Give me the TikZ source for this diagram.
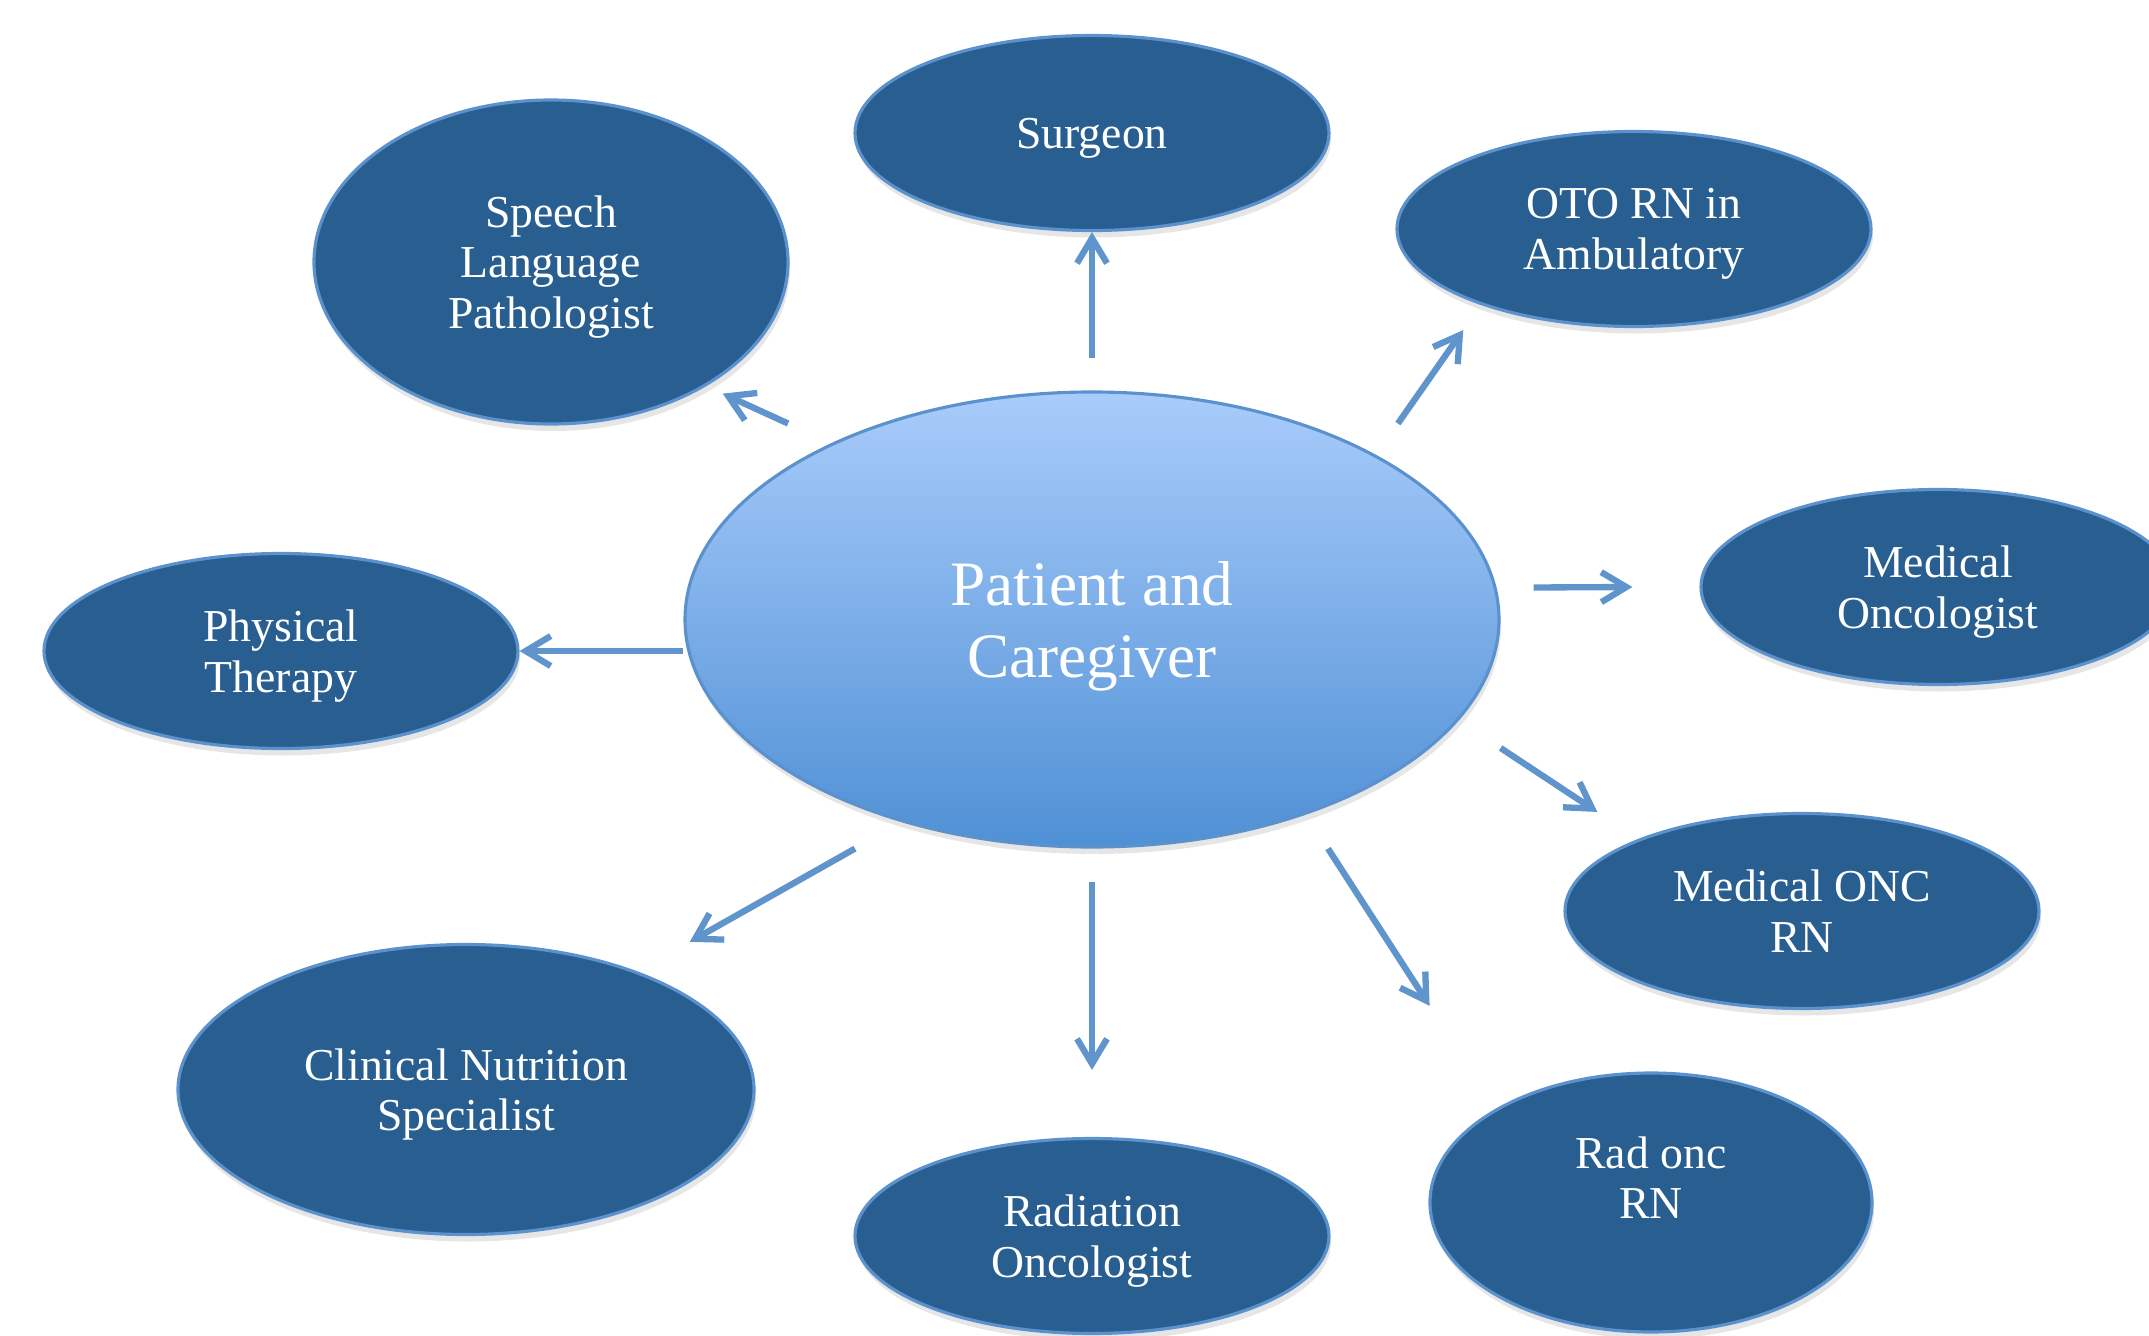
\documentclass[tikz,border=0pt]{standalone}
\usepackage{fontspec}
\setmainfont{Liberation Serif}
\usetikzlibrary{shapes}
\usetikzlibrary{arrows.meta}
\usetikzlibrary{shadows}
\definecolor{roleblue}{RGB}{41,94,145}
\definecolor{rimblue}{RGB}{91,146,206}
\definecolor{hubtop}{RGB}{169,204,251}
\definecolor{hubbottom}{RGB}{79,144,213}
\definecolor{linkblue}{RGB}{95,148,204}
\tikzset{
	role/.style={
		ellipse,
		draw=rimblue,
		line width=0.9pt,
		fill=roleblue,
		text=white,
		align=center,
		inner sep=0pt,
		text depth=0pt,
		minimum width=4.74cm,
		minimum height=1.95cm,
		font=\fontsize{13}{14.4}\selectfont,
		drop shadow={opacity=0.2,shadow xshift=0.02cm,shadow yshift=-0.07cm}
	},
	hub/.style={
		ellipse,
		draw=rimblue,
		line width=0.9pt,
		top color=hubtop,
		bottom color=hubbottom,
		text=white,
		align=center,
		inner sep=0pt,
		text depth=0pt,
		minimum width=8.14cm,
		minimum height=4.55cm,
		font=\fontsize{18}{20.7}\selectfont,
		drop shadow={opacity=0.2,shadow xshift=0.02cm,shadow yshift=-0.07cm}
	},
	link/.style={
		draw=linkblue,
		line width=1.8pt,
		-{Straight Barb[length=2.5mm,width=3mm]}
	}
}

\begin{document}
\begin{tikzpicture}
					\useasboundingbox (0,0) rectangle (21.49,13.35);
					\clip (0,0) rectangle (21.49,13.35);
					\node[hub] (ctr) at (10.92,7.155) {Patient and\\Caregiver};
					\node[role] (surg) at (10.92,12.02) {Surgeon};
					\node[role, minimum height=3.24cm] (slp) at (5.51,10.73) {Speech\\Language\\Pathologist};
					\node[role] (oto) at (16.34,11.06) {OTO RN in\\Ambulatory};
					\node[role] (medonc) at (19.38,7.48) {Medical\\Oncologist};
					\node[role] (pt) at (2.81,6.84) {Physical\\Therapy};
					\node[role] (mrn) at (18.02,4.24) {Medical ONC\\RN};
					\node[role, minimum width=5.76cm, minimum height=2.9cm] (cns) at (4.66,2.455) {Clinical Nutrition\\Specialist};
					\node[role] (radonc) at (10.92,0.99) {Radiation\\Oncologist};
					\node[role, minimum width=4.42cm, minimum height=2.59cm, text depth=0.5cm] (rrn) at (16.51,1.325) {Rad onc\\RN};
					
					\draw[link] ([yshift=0.32cm]ctr.north) -- (surg.south);
					\draw[link] ([shift={(-0.15,0.34)}]ctr.north west) -- ([shift={(0.03,-0.16)}]slp.south east);
					\draw[link] ([shift={(0.17,0.34)}]ctr.north east) -- ([shift={(-0.02,-0.31)}]oto.south west);
					\draw[link] ([shift={(0.33,0.32)}]ctr.east) -- ([xshift=-0.67cm]medonc.west);
					\draw[link] (ctr.west |- pt.east) -- (pt.east);
					\draw[link] ([yshift=-1.285cm]ctr.east) -- ([shift={(-0.36,0.29)}]mrn.north west);
					\draw[link] ([xshift=-2.37cm]ctr.south) -- ([shift={(0.19,0.44)}]cns.north east);
					\draw[link] ([yshift=-0.33cm]ctr.south) -- ([yshift=0.67cm]radonc.north);
					\draw[link] ([xshift=2.36cm]ctr.south) -- ([shift={(-0.64,1.04)}]rrn.north west);
				\end{tikzpicture}
\end{document}
